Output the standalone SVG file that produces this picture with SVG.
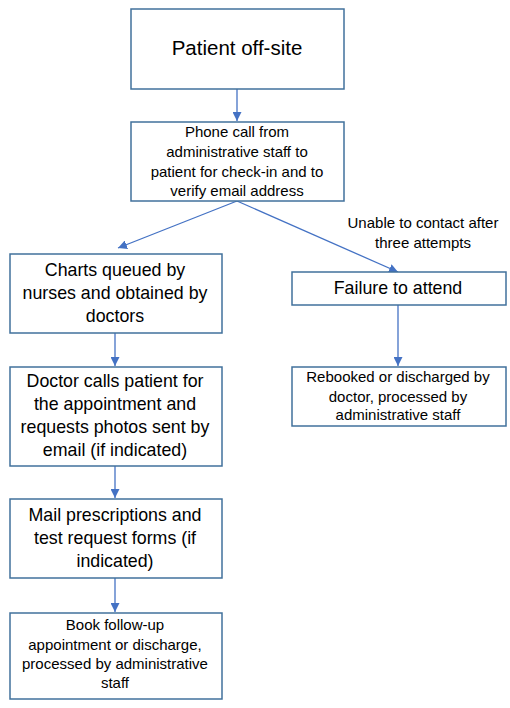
<svg xmlns="http://www.w3.org/2000/svg" width="510" height="708" viewBox="0 0 510 708">
<defs>
<marker id="ah" viewBox="0 0 10 10" refX="10" refY="5" markerWidth="9" markerHeight="9" markerUnits="userSpaceOnUse" orient="auto">
<path d="M0,0 L10,5 L0,10 z" fill="#4472C4"/>
</marker>
</defs>
<style>
rect{fill:#fff;stroke:#41719C;stroke-width:1.5}
text{font-family:"Liberation Sans",Arial,sans-serif;fill:#000;text-anchor:middle}
.l{font-size:17.8px}
.s{font-size:15px}
.c line{stroke:#4472C4;stroke-width:1.3;marker-end:url(#ah)}
</style>
<rect x="0" y="0" width="510" height="708" style="stroke:none"/>
<g class="c" id="connectors">
<line x1="237" y1="89" x2="237" y2="121"/>
<line x1="237" y1="201" x2="118" y2="248"/>
<line x1="237" y1="201" x2="398" y2="272"/>
<line x1="115" y1="333" x2="115" y2="366"/>
<line x1="398" y1="305" x2="398" y2="366"/>
<line x1="115" y1="466" x2="115" y2="498"/>
<line x1="115" y1="578" x2="115" y2="612"/>
</g>
<g id="label">
<text class="s" x="423" y="228">Unable to contact after</text>
<text class="s" x="423" y="248">three attempts</text>
</g>
<g id="n1">
<rect x="131" y="9" width="213" height="80"/>
<text x="237" y="55" style="font-size:20.5px">Patient off-site</text>
</g>
<g id="n2">
<rect x="131" y="122" width="213" height="79"/>
<text class="s" x="237" y="137">Phone call from</text>
<text class="s" x="237" y="157">administrative staff to</text>
<text class="s" x="237" y="177">patient for check-in and to</text>
<text class="s" x="237" y="196">verify email address</text>
</g>
<g id="n3">
<rect x="10" y="254" width="212" height="79"/>
<text class="l" x="115" y="276">Charts queued by</text>
<text class="l" x="115" y="299">nurses and obtained by</text>
<text class="l" x="115" y="322">doctors</text>
</g>
<g id="n4">
<rect x="292" y="272" width="214" height="33"/>
<text class="l" x="398" y="294">Failure to attend</text>
</g>
<g id="n5">
<rect x="292" y="367" width="214" height="59"/>
<text class="s" x="398" y="382">Rebooked or discharged by</text>
<text class="s" x="398" y="402">doctor, processed by</text>
<text class="s" x="398" y="420">administrative staff</text>
</g>
<g id="n6">
<rect x="10" y="367" width="212" height="99"/>
<text class="l" x="115" y="387">Doctor calls patient for</text>
<text class="l" x="115" y="410">the appointment and</text>
<text class="l" x="115" y="433">requests photos sent by</text>
<text class="l" x="115" y="456">email (if indicated)</text>
</g>
<g id="n7">
<rect x="10" y="499" width="212" height="79"/>
<text class="l" x="115" y="521">Mail prescriptions and</text>
<text class="l" x="115" y="544">test request forms (if</text>
<text class="l" x="115" y="567">indicated)</text>
</g>
<g id="n8">
<rect x="10" y="613" width="212" height="86"/>
<text class="s" x="115" y="630">Book follow-up</text>
<text class="s" x="115" y="650">appointment or discharge,</text>
<text class="s" x="115" y="669">processed by administrative</text>
<text class="s" x="115" y="688">staff</text>
</g>
</svg>
